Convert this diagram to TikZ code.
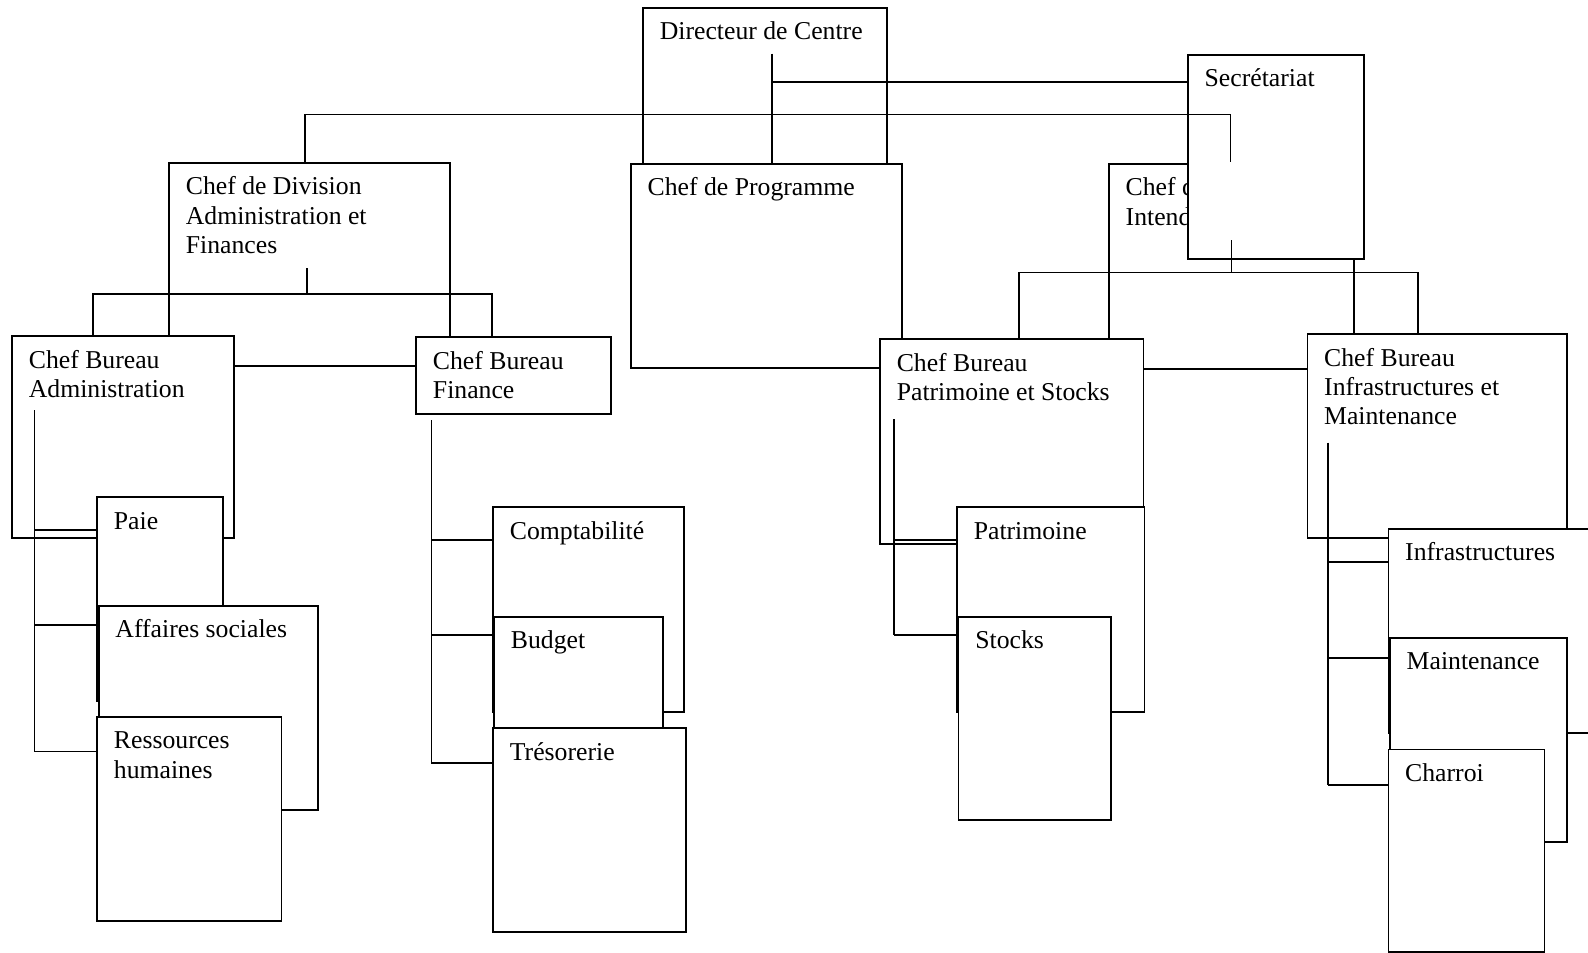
\documentclass[tikz,border=0pt]{standalone}
\usepackage{fontspec}
\setmainfont{Liberation Serif}
\usetikzlibrary{fit}
\tikzset{
  orgrect/.style={draw=black, fill=white, line width=0.9pt, inner sep=0pt},
  orgtext/.style={anchor=north west, inner sep=0pt, align=left, font=\fontsize{12.7}{14.5}\selectfont},
  link/.style={draw=black, line width=0.9pt}
}
\newcommand{\orgbox}[6]{%
  \node[orgrect, fit={(#2,#3) (#4,#5)}] (#1) {};
  \node[orgtext] (#1-t) at ([shift={(17,12)}]#1.north west) {\rule{0pt}{10pt}#6};
}
\begin{document}
\begin{tikzpicture}[x=0.5pt, y=-0.5pt]
\useasboundingbox (0,0) rectangle (1568,941);
\clip (0,0) rectangle (1568,941);
\fill[white] (0,0) rectangle (1568,941);
% upper level boxes
\orgbox{dir}{635}{8}{876}{208}{Directeur de Centre}
\orgbox{div}{167}{161}{444}{361}{Chef de Division\\Administration et\\Finances}
\orgbox{int}{1095}{162}{1337}{364}{Chef de Division\\Intendance}
\orgbox{prog}{623}{162}{891}{363}{Chef de Programme}
\orgbox{sec}{1173}{54}{1347}{256}{Secrétariat}
\orgbox{adm}{12}{332}{231}{531}{Chef Bureau\\Administration}
\orgbox{fin}{411}{333}{603}{409}{Chef Bureau\\Finance}
\orgbox{ps}{869}{335}{1129}{537}{Chef Bureau\\Patrimoine et Stocks}
\orgbox{im}{1291}{330}{1547}{531}{Chef Bureau\\Infrastructures et\\Maintenance}
% children
\orgbox{paie}{96}{491}{220}{692}{Paie}
\orgbox{aff}{97.5}{598}{314}{800}{Affaires sociales}
\orgbox{rh}{96}{708}{278}{909}{Ressources\\humaines}
\orgbox{cpt}{487}{501}{675}{703}{Comptabilité}
\orgbox{bud}{488}{609}{655}{810}{Budget}
\orgbox{tre}{487}{719}{677}{920}{Trésorerie}
\orgbox{pat}{945}{501}{1130}{703}{Patrimoine}
\orgbox{stk}{946.5}{609}{1097}{810}{Stocks}
\orgbox{inf}{1371}{522}{1600}{724}{Infrastructures}
\orgbox{mnt}{1372.5}{630}{1547}{831}{Maintenance}
\orgbox{cha}{1371}{740}{1525}{940}{Charroi}
% connectors
\coordinate (d1) at (762,53);
\coordinate (d2) at (762,81);
\draw[link] (d1) -- (d1 |- prog.north);
\draw[link] (d2) -- (d2 -| sec.west);
\coordinate (t1) at (301,113);
\coordinate (t2) at (1215,113);
\coordinate (t3) at (1215,160);
\draw[link] (t1 |- div.north) -- (t1) -- (t2) -- (t3);
\coordinate (i1) at (1216,237);
\coordinate (bL) at (1006,269);
\coordinate (bR) at (1400,269);
\draw[link] (i1) -- (i1 |- bL);
\draw[link] (bL |- ps.north) -- (bL) -- (bR) -- (bR |- im.north);
\coordinate (v1) at (303,265);
\coordinate (vL) at (92,290);
\coordinate (vR) at (486,290);
\draw[link] (v1) -- (v1 |- vL);
\draw[link] (vL |- adm.north) -- (vL) -- (vR) -- (vR |- fin.north);
% admin children
\coordinate (a0) at (34,405);
\coordinate (a1) at (34,523);
\coordinate (a2) at (34,617);
\coordinate (a3) at (34,742);
\draw[link] (a0) -- (a3);
\draw[link] (a1) -- (a1 -| paie.west);
\draw[link] (a2) -- (a2 -| aff.west);
\draw[link] (a3) -- (a3 -| rh.west);
% finance children
\coordinate (f0) at (426,415);
\coordinate (f1) at (426,533);
\coordinate (f2) at (426,627);
\coordinate (f3) at (426,753);
\draw[link] (f0) -- (f3);
\draw[link] (f1) -- (f1 -| cpt.west);
\draw[link] (f2) -- (f2 -| bud.west);
\draw[link] (f3) -- (f3 -| tre.west);
% patrimoine children
\coordinate (p0) at (883,414);
\coordinate (p1) at (883,533);
\coordinate (p2) at (883,627);
\draw[link] (p0) -- (p2);
\draw[link] (p1) -- (p1 -| pat.west);
\draw[link] (p2) -- (p2 -| stk.west);
% infrastructures children
\coordinate (m0) at (1311,437);
\coordinate (m1) at (1311,555);
\coordinate (m2) at (1311,650);
\coordinate (m3) at (1311,775);
\draw[link] (m0) -- (m3);
\draw[link] (m1) -- (m1 -| inf.west);
\draw[link] (m2) -- (m2 -| mnt.west);
\draw[link] (m3) -- (m3 -| cha.west);
\end{tikzpicture}
\end{document}
